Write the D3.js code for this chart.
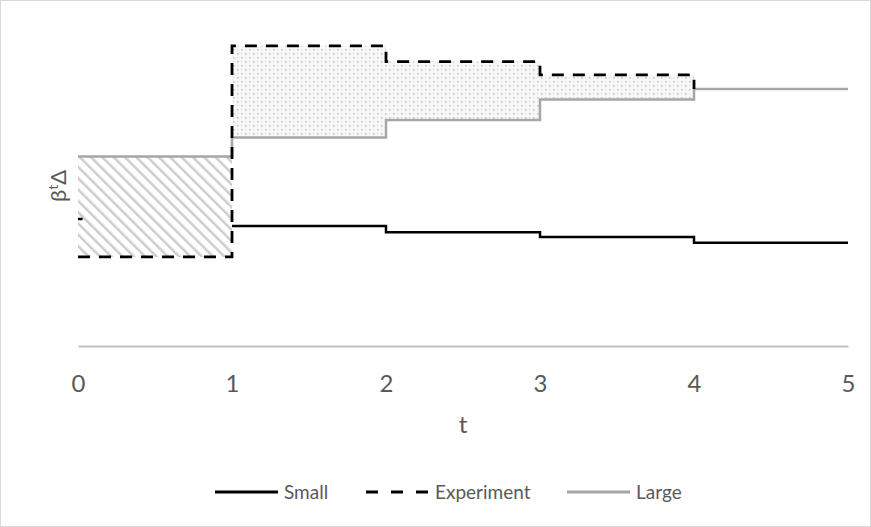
<!DOCTYPE html>
<html>
<head>
<meta charset="utf-8">
<script src="https://cdn.jsdelivr.net/npm/d3@7"></script>
<style>
  body { margin: 0; background: #fff; }
  svg { display: block; font-family: Lato, "Open Sans", sans-serif; }
</style>
</head>
<body>
<svg width="871" height="527"></svg>
<script>
// step values (t -> level, step after)
var tTicks = [0, 1, 2, 3, 4, 5];
var largeT = [0, 1, 2, 3, 4, 5];
var largeV = [6.0, 6.6, 7.15, 7.8, 8.13, 8.13];
var smallT = [1, 2, 3, 4, 5];
var smallV = [3.8, 3.6, 3.45, 3.27, 3.27];
var smallStartV = 4.02;
var expT = [0, 1, 2, 3, 4];
var expV = [2.82, 9.5, 9.0, 8.58, 8.13];
var legendNames = ["Small", "Experiment", "Large"];

var svg = d3.select("svg");
var width = 871, height = 527;

svg.append("rect")
  .attr("x", 0.5).attr("y", 0.5)
  .attr("width", width - 1).attr("height", height - 1)
  .attr("fill", "#fff").attr("stroke", "#d9d9d9");

var x = d3.scaleLinear().domain([0, 5]).range([78, 848]);
var y = d3.scaleLinear().domain([0, 10]).range([346, 30]);

var large = largeT.map((t, i) => ({t: t, v: largeV[i]}));
var small = smallT.map((t, i) => ({t: t, v: smallV[i]}));
var exper = expT.map((t, i) => ({t: t, v: expV[i]}));

// patterns
var defs = svg.append("defs");
var hatch = defs.append("pattern")
  .attr("id", "hatch").attr("patternUnits", "userSpaceOnUse")
  .attr("width", 8).attr("height", 8)
  .attr("patternTransform", "rotate(-45)");
hatch.append("rect").attr("width", 8).attr("height", 8).attr("fill", "#fff");
hatch.append("line")
  .attr("x1", 0).attr("y1", 0).attr("x2", 0).attr("y2", 8)
  .attr("stroke", "#cdcdcd").attr("stroke-width", 5);

var dots = defs.append("pattern")
  .attr("id", "dots").attr("patternUnits", "userSpaceOnUse")
  .attr("width", 8).attr("height", 8);
dots.append("rect").attr("width", 8).attr("height", 8).attr("fill", "#f8f8f8");
[[1, 1], [5, 5]].forEach(p => {
  dots.append("rect").attr("x", p[0]).attr("y", p[1])
    .attr("width", 1.6).attr("height", 1.6).attr("fill", "#c4c4c4");
});
[[5, 1], [1, 5]].forEach(p => {
  dots.append("rect").attr("x", p[0]).attr("y", p[1])
    .attr("width", 1.2).attr("height", 1.2).attr("fill", "#dcdcdc");
});

// shaded regions between experiment and large
var areaGen = d3.area()
  .curve(d3.curveStepAfter)
  .x(d => x(d.t))
  .y0(d => y(d.lo))
  .y1(d => y(d.hi));

var firstSeg = [0, 1].map(t => ({t: t, lo: expV[0], hi: largeV[0]}));
svg.append("path")
  .attr("d", areaGen(firstSeg))
  .attr("fill", "url(#hatch)");

var secondSeg = expT.slice(1).map((t, i) => ({t: t, lo: largeV[i + 1], hi: expV[i + 1]}));
svg.append("path")
  .attr("d", areaGen(secondSeg))
  .attr("fill", "url(#dots)");

// axis
var xAxis = d3.axisBottom(x).tickValues(tTicks).tickSize(0).tickPadding(29)
  .tickFormat(d3.format("d"));
var gx = svg.append("g").attr("transform", "translate(0," + y(0) + ")").call(xAxis);
gx.select(".domain").attr("stroke", "#bfbfbf").attr("stroke-width", 2);
gx.selectAll("text").attr("fill", "#595959").style("font-size", "24px")
  .style("font-family", "Lato, 'Open Sans', sans-serif");

svg.append("text")
  .attr("x", (x(0) + x(5)) / 2).attr("y", 433)
  .attr("text-anchor", "middle").attr("fill", "#595959")
  .style("font-size", "24px").text("t");

var yl = svg.append("text")
  .attr("transform", "translate(66,186) rotate(-90)")
  .attr("text-anchor", "middle").attr("fill", "#595959")
  .style("font-size", "22px");
yl.append("tspan").text("β");
yl.append("tspan").attr("dy", -8).style("font-size", "14px").text("t");
yl.append("tspan").attr("dy", 8).text("Δ");

// lines
var line = d3.line().curve(d3.curveStepAfter).x(d => x(d.t)).y(d => y(d.v));

svg.append("path").attr("d", line(large))
  .attr("fill", "none").attr("stroke", "#a6a6a6").attr("stroke-width", 2.5);

svg.append("path").attr("d", line(small))
  .attr("fill", "none").attr("stroke", "#000").attr("stroke-width", 2.5);

svg.append("line")
  .attr("x1", x(0)).attr("x2", x(0.03))
  .attr("y1", y(smallStartV)).attr("y2", y(smallStartV))
  .attr("stroke", "#000").attr("stroke-width", 2.5);

svg.append("path").attr("d", line(exper))
  .attr("fill", "none").attr("stroke", "#000").attr("stroke-width", 2.8)
  .attr("stroke-dasharray", "12,9");

// legend
var legX = [215, 366, 567];
var legStyle = [
  {stroke: "#000", dash: null},
  {stroke: "#000", dash: "12,13"},
  {stroke: "#a6a6a6", dash: null}
];
var leg = svg.append("g").selectAll("g").data(legendNames).enter().append("g")
  .attr("transform", (d, i) => "translate(" + legX[i] + ",492)");
leg.append("line")
  .attr("x1", 0).attr("x2", 63).attr("y1", 0).attr("y2", 0)
  .attr("stroke", (d, i) => legStyle[i].stroke)
  .attr("stroke-width", 2.8)
  .attr("stroke-dasharray", (d, i) => legStyle[i].dash);
leg.append("text")
  .attr("x", 69).attr("y", 7)
  .attr("fill", "#595959").style("font-size", "19px")
  .text(d => d);
</script>
</body>
</html>
